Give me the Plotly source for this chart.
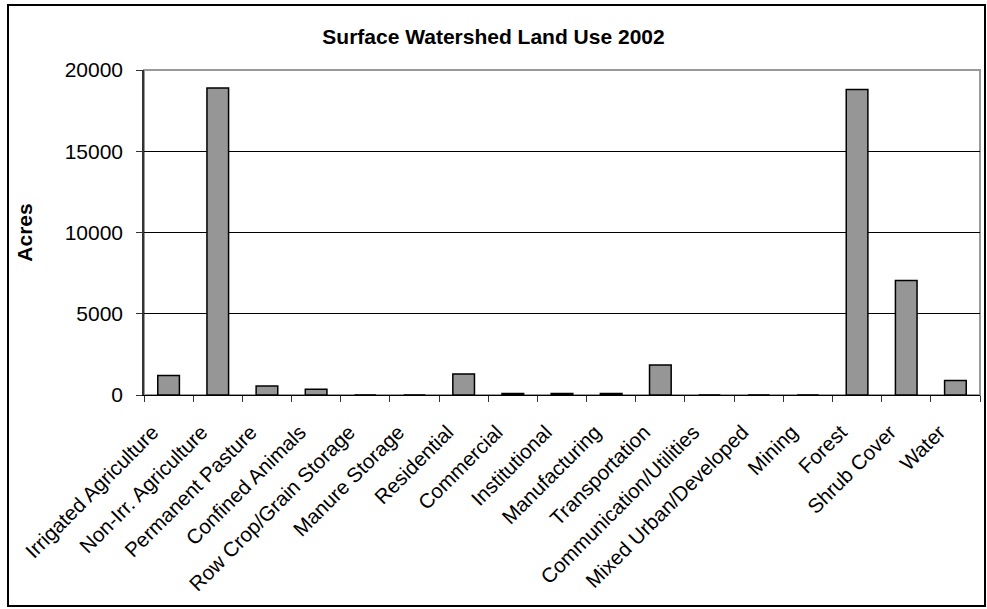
import plotly.graph_objects as go

categories = ["Irrigated Agriculture", "Non-Irr. Agriculture", "Permanent Pasture",
              "Confined Animals", "Row Crop/Grain Storage", "Manure Storage",
              "Residential", "Commercial", "Institutional", "Manufacturing",
              "Transportation", "Communication/Utilities", "Mixed Urban/Developed",
              "Mining", "Forest", "Shrub Cover", "Water"]
acres = [1200, 18900, 550, 350, 0, 0, 1300, 100, 100, 100, 1850, 0, 0, 0, 18800, 7050, 900]
y_ticks = [0, 5000, 10000, 15000, 20000]

W, H = 987, 609
L, R, T, B = 144, 7, 70, 214
pw = W - L - R
ph = H - T - B

def px_x(x):
    return (x - L) / pw

def px_y(y):
    return (H - B - y) / ph

fig = go.Figure(go.Bar(
    x=categories, y=acres,
    marker=dict(color="#969696", line=dict(color="black", width=1.5)),
))

font = "Liberation Sans, Arial, sans-serif"
nb = "\u00a0"
fig.update_layout(
    width=W, height=H,
    margin=dict(l=L, r=R, t=T, b=B),
    paper_bgcolor="white", plot_bgcolor="white",
    bargap=0.56,
    showlegend=False,
    font=dict(family=font, size=20, color="black"),
    title=dict(text="<b>Surface Watershed Land Use 2002</b>", x=0.5, xanchor="center",
               y=1 - 37 / H, yanchor="middle", font=dict(size=21, family=font)),
    xaxis=dict(tickangle=-45, ticks="outside", tickson="boundaries", ticklen=6,
               tickcolor="#333", showline=True, linecolor="black", linewidth=1,
               tickfont=dict(size=20.5), ticksuffix=nb * 4, fixedrange=True,
               automargin=False),
    yaxis=dict(range=[0, 20000], tickvals=y_ticks, tickformat="d", ticks="outside", ticklen=6,
               tickcolor="#333", showline=True, linecolor="#333", linewidth=1.5,
               showgrid=True, gridcolor="black", gridwidth=1, zeroline=False,
               tickfont=dict(size=21), ticklabelstandoff=9, automargin=False,
               title=dict(text="<b>Acres</b>", font=dict(size=21), standoff=26)),
    shapes=[
        dict(type="rect", xref="paper", yref="paper", x0=0, x1=1, y0=0, y1=1,
             line=dict(color="#999", width=2), layer="below"),
        dict(type="rect", xref="paper", yref="paper",
             x0=px_x(8), x1=px_x(985), y0=px_y(606), y1=px_y(5),
             line=dict(color="black", width=2)),
    ],
)

fig.write_html("out.html")
